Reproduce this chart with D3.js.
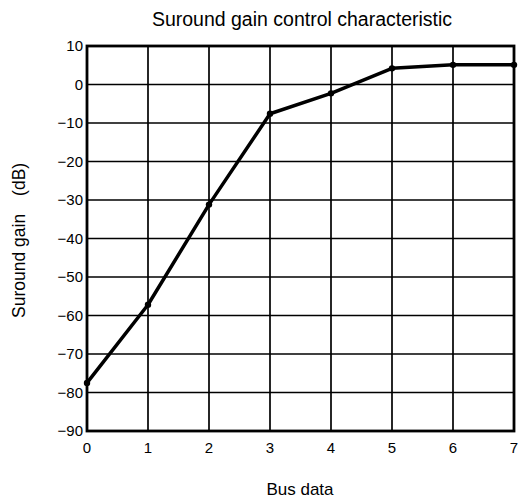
<!DOCTYPE html>
<html><head><meta charset="utf-8">
<script src="https://cdn.jsdelivr.net/npm/d3@7"></script>
<style>body{margin:0;background:#fff}svg{display:block}text{font-family:"Liberation Sans",Arial,sans-serif;fill:#000}</style>
</head><body><svg id="c" width="518" height="500"></svg>
<script>
const busData = [0,1,2,3,4,5,6,7];
const gainDb = [-77.5,-57.2,-31.2,-7.6,-2.3,4.2,5.1,5.1];
const xTicks = [0,1,2,3,4,5,6,7];
const yTicks = [10,0,-10,-20,-30,-40,-50,-60,-70,-80,-90];
const title = "Suround gain control characteristic";
const xLabel = "Bus data";
const yLabelMain = "Suround gain";
const yLabelUnit = "(dB)";

const svg = d3.select("#c");
const L=87, R=514, T=46, B=431;
const x = d3.scaleLinear().domain([0,7]).range([L,R]);
const y = d3.scaleLinear().domain([-90,10]).range([B,T]);

const g = svg.append("g");
g.selectAll(".vg").data(xTicks).join("line").attr("x1",d=>x(d)).attr("x2",d=>x(d)).attr("y1",T).attr("y2",B).attr("stroke","#000").attr("stroke-width",1.7);
g.selectAll(".hg").data(yTicks).join("line").attr("y1",d=>y(d)).attr("y2",d=>y(d)).attr("x1",L).attr("x2",R).attr("stroke","#000").attr("stroke-width",1.7);
g.append("rect").attr("x",L).attr("y",T).attr("width",R-L).attr("height",B-T).attr("fill","none").attr("stroke","#000").attr("stroke-width",2.8);

const fmt = d => d<0 ? "\u2212"+Math.abs(d) : String(d);
g.selectAll(".yl").data(yTicks).join("text").attr("x",L-4).attr("y",d=>y(d)+5).attr("text-anchor","end").attr("font-size",15).text(fmt);
g.selectAll(".xl").data(xTicks).join("text").attr("x",d=>x(d)).attr("y",453).attr("text-anchor","middle").attr("font-size",15).text(d=>d);

const pts = busData.map((b,i)=>[b,gainDb[i]]);
g.append("path").datum(pts).attr("d",d3.line().x(d=>x(d[0])).y(d=>y(d[1]))).attr("fill","none").attr("stroke","#000").attr("stroke-width",3.5).attr("stroke-linejoin","round");
g.selectAll(".pt").data(pts).join("circle").attr("cx",d=>x(d[0])).attr("cy",d=>y(d[1])).attr("r",3.2).attr("fill","#000");

svg.append("text").attr("x",302).attr("y",26).attr("text-anchor","middle").attr("font-size",19.5).text(title);
svg.append("text").attr("x",300).attr("y",495).attr("text-anchor","middle").attr("font-size",17).text(xLabel);
const yl = svg.append("text").attr("transform",`translate(25,318) rotate(-90)`).attr("text-anchor","start").attr("font-size",17.5);
yl.append("tspan").text(yLabelMain);
yl.append("tspan").attr("dx",18).text(yLabelUnit);
</script></body></html>
